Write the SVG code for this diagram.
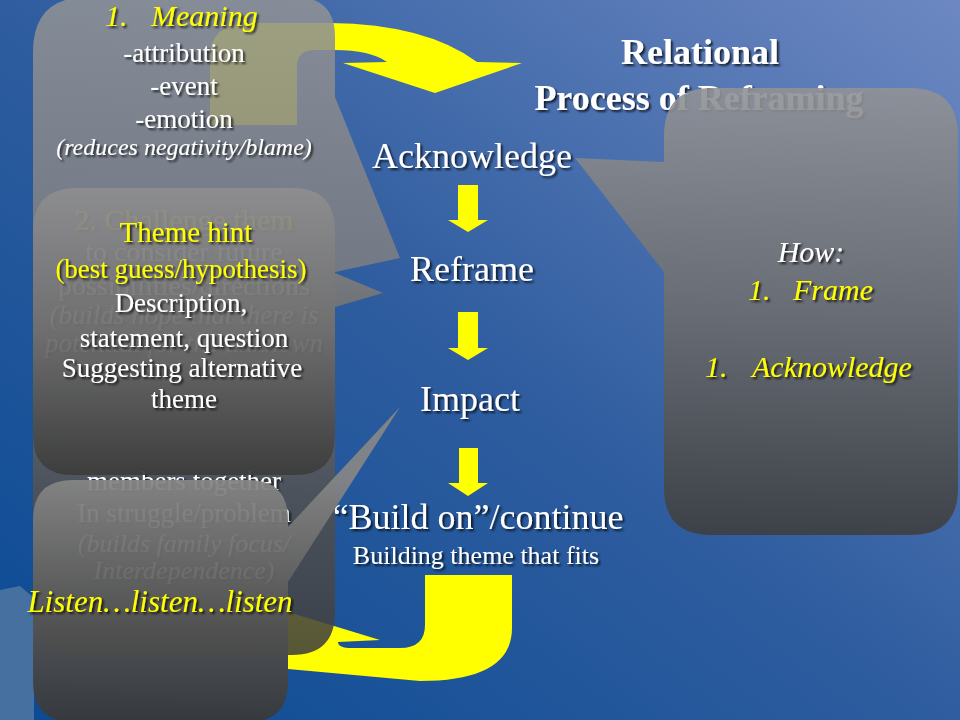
<svg xmlns="http://www.w3.org/2000/svg" width="960" height="720" viewBox="0 0 960 720">
<defs>
<linearGradient id="bg" x1="1" y1="0" x2="0" y2="1">
<stop offset="0" stop-color="#6d88c2"/>
<stop offset="0.5" stop-color="#2f5d9f"/>
<stop offset="1" stop-color="#0a4a94"/>
</linearGradient>
<linearGradient id="gA" gradientUnits="userSpaceOnUse" x1="0" y1="0" x2="0" y2="655">
<stop offset="0" stop-color="#909296"/>
<stop offset="0.45" stop-color="#7c7c7e"/>
<stop offset="0.75" stop-color="#525252"/>
<stop offset="1" stop-color="#3e3e3e"/>
</linearGradient>
<linearGradient id="gB" gradientUnits="userSpaceOnUse" x1="0" y1="188" x2="0" y2="475">
<stop offset="0" stop-color="#8e8e90"/>
<stop offset="0.5" stop-color="#6e6e6e"/>
<stop offset="1" stop-color="#3c3c3c"/>
</linearGradient>
<linearGradient id="gC" gradientUnits="userSpaceOnUse" x1="0" y1="480" x2="0" y2="722">
<stop offset="0" stop-color="#858585"/>
<stop offset="0.5" stop-color="#5a5a5a"/>
<stop offset="1" stop-color="#383838"/>
</linearGradient>
<linearGradient id="gD" gradientUnits="userSpaceOnUse" x1="0" y1="88" x2="0" y2="535">
<stop offset="0" stop-color="#909296"/>
<stop offset="0.5" stop-color="#6c6c6e"/>
<stop offset="1" stop-color="#3e3e3e"/>
</linearGradient>
<filter id="sh" x="-10%" y="-20%" width="120%" height="150%">
<feDropShadow dx="2" dy="2" stdDeviation="0.8" flood-color="#000" flood-opacity="0.75"/>
</filter>
<style>
text{font-family:"Liberation Serif","Times New Roman",serif;filter:url(#sh)}
.w{fill:#ffffff}
.y{fill:#ffff00}
.c{text-anchor:middle}
.i{font-style:italic}
.b{font-weight:bold}
.flow{font-size:36px;fill:#ffffff;text-anchor:middle}
.arrow{fill:#ffff00}
.callA{fill:url(#gA);opacity:0.87}
.callB{fill:url(#gB);opacity:0.94}
.callC{fill:url(#gC);opacity:0.94}
.callD{fill:url(#gD);opacity:0.9}
</style>
</defs>

<rect id="background" x="0" y="0" width="960" height="720" fill="url(#bg)"/>
<path id="texture" d="M0,590 L20,586 L34,598 L34,720 L0,720 Z" fill="#46709f"/>

<g id="title">
<text class="w c b" x="700" y="64" font-size="36">Relational</text>
<text class="w c b" x="699" y="110" font-size="36">Process  of Reframing</text>
</g>

<g id="connectors">
<path class="arrow" d="M210,125 L210,58 Q210,23 250,23 L330,23 Q426,24 477,62 L522,63 L435,93 L343,63 L387,62 Q370,50 335,50 L315,50 Q297,50 297,66 L297,125 Z"/>
<path class="arrow" d="M425,575 L512,575 L512,628 Q512,681 420,681 L288,669 L288,612 L380,640 L338,642 Q338,648 352,648 L400,648 Q425,648 425,625 Z"/>
<path class="arrow" d="M458,185 L478,185 L478,220 L488,220 L468,232 L448,220 L458,220 Z"/>
<path class="arrow" d="M458,312 L478,312 L478,348 L488,348 L468,360 L448,348 L458,348 Z"/>
<path class="arrow" d="M459,448 L478,448 L478,483 L488,483 L468,496 L448,483 L459,483 Z"/>
</g>

<g id="node-acknowledge"><text class="flow" x="472" y="168">Acknowledge</text></g>
<g id="node-reframe"><text class="flow" x="472" y="281">Reframe</text></g>
<g id="node-impact"><text class="flow" x="470" y="411">Impact</text></g>
<g id="node-buildon">
<text class="flow" x="478" y="529">“Build on”/continue</text>
<text class="w c" x="476" y="564" font-size="26">Building theme that fits</text>
</g>

<g id="callout-meaning">
<path class="callA" d="M88,-3 L295,-3 Q335,-3 335,37 L335,97 L400,258 L335,272 L335,612 Q335,655 292,655 L76,655 Q33,655 33,612 L33,52 Q33,-3 88,-3 Z"/>
<text class="y i" x="105" y="26" font-size="30">1.</text>
<text class="y i" x="151" y="26" font-size="30">Meaning</text>
<text class="w c" x="184" y="62" font-size="27">-attribution</text>
<text class="w c" x="184" y="95" font-size="27">-event</text>
<text class="w c" x="184" y="128" font-size="27">-emotion</text>
<text class="w c i" x="184" y="155" font-size="24">(reduces negativity/blame)</text>
<text class="y c" x="184" y="230" font-size="30">2. Challenge them</text>
<text class="w c" x="184" y="261" font-size="28">to consider future</text>
<text class="w c" x="184" y="295" font-size="28">possibilities/directions</text>
<text class="w c i" x="184" y="324" font-size="27">(builds hope that there is</text>
<text class="w c i" x="184" y="352" font-size="27">potential for the unknown</text>
<text class="w c" x="184" y="490" font-size="27">members together</text>
<text class="w c" x="184" y="522" font-size="27">In struggle/problem</text>
<text class="w c i" x="184" y="552" font-size="26">(builds family focus/</text>
<text class="w c i" x="184" y="579" font-size="26">Interdependence)</text>
</g>

<g id="callout-theme-hint">
<path class="callB" d="M78,188 L292,188 Q335,188 335,231 L335,273 L383,293 L335,307 L335,435 Q335,475 295,475 L73,475 Q33,475 33,435 L33,231 Q33,188 78,188 Z"/>
<text class="y c" x="186" y="242" font-size="29">Theme  hint</text>
<text class="y c" x="181" y="278" font-size="27">(best guess/hypothesis)</text>
<text class="w c" x="181" y="312" font-size="27">Description,</text>
<text class="w c" x="184" y="347" font-size="27">statement, question</text>
<text class="w c" x="182" y="377" font-size="27">Suggesting alternative</text>
<text class="w c" x="184" y="408" font-size="27">theme</text>
</g>

<g id="callout-listen">
<path class="callC" d="M73,480 L248,480 Q288,480 288,520 L288,527 L400,407 L288,582 L288,682 Q288,722 248,722 L73,722 Q33,722 33,682 L33,520 Q33,480 73,480 Z"/>
<text class="y c i" x="160" y="612" font-size="31">Listen…listen…listen</text>
</g>

<g id="callout-how">
<path class="callD" d="M712,88 L910,88 Q958,88 958,136 L958,488 Q958,535 911,535 L711,535 Q664,535 664,488 L664,272 L575,158 L664,162 L664,136 Q664,88 712,88 Z"/>
<text class="w c i" x="811" y="262" font-size="30">How:</text>
<text class="y i" x="748" y="300" font-size="30">1.</text>
<text class="y i" x="793" y="300" font-size="30">Frame</text>
<text class="y i" x="705" y="377" font-size="30">1.</text>
<text class="y i" x="752" y="377" font-size="30">Acknowledge</text>
</g>
</svg>
